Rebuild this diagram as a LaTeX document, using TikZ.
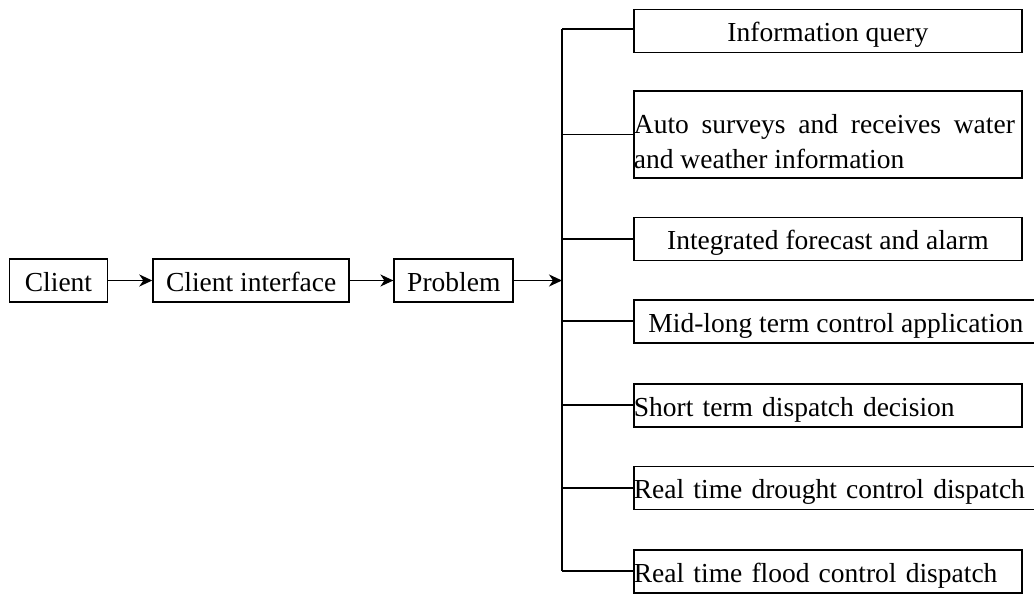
\documentclass[tikz,border=0pt]{standalone}
\usepackage{fontspec}
\setmainfont{Liberation Serif}
\usetikzlibrary{arrows.meta}
\begin{document}
\begin{tikzpicture}[x=1pt,y=-1pt,
  every node/.style={font=\fontsize{27.5}{35}\selectfont},
  box/.style={draw,line width=1.8pt,inner sep=0pt,minimum height=43pt,text height=21.5pt,text depth=0pt},
  rbox/.style={box,anchor=west},
  lbox/.style={rbox,text width=388pt,align=left},
  link/.style={line width=1.8pt},
  arr/.style={link,-{Stealth[length=13pt,width=12pt,inset=4pt]}}]
\clip (0,0) rectangle (1034,596);
\useasboundingbox (0,0) rectangle (1034,596);
% left chain
\node[box,minimum width=98pt] (client) at (58.5,280.5) {Client};
\node[box,minimum width=196pt] (iface) at (251.2,280.5) {Client interface};
\node[box,minimum width=119pt] (prob) at (453.8,280.5) {Problem};
% bus
\coordinate (busTop) at (562,29);
\coordinate (busBot) at (562,571);
% right boxes
\node[rbox,minimum width=388pt] (info) at (633,31) {Information query};
\node[draw,line width=1.8pt,inner sep=0pt,anchor=west,minimum width=388pt,minimum height=87.6pt] (auto) at (633,134.5) {};
\node[anchor=center,inner sep=0pt] (autotext) at ([yshift=-7pt]auto.center)
  {\parbox{388pt}{\makebox[381pt][s]{Auto surveys and receives water}\\and weather information}};
\node[rbox,minimum width=388pt] (integ) at (633,239) {Integrated forecast and alarm};
\node[rbox,minimum width=404pt] (mid) at (633,321.3) {Mid-long term control application};
\node[lbox] (short) at (633,405.3) {Short term dispatch decision};
\node[lbox,text width=412pt] (drought) at (633,488) {Real time drought control dispatch};
\node[lbox] (flood) at (633,571.3) {Real time flood control dispatch};
% connectors
\draw[arr] (client.east) -- (iface.west);
\draw[arr] (iface.east) -- (prob.west);
\draw[arr] (prob.east) -- (prob.east -| busTop);
\draw[link] (busTop) -- (busBot);
\draw[link] (busTop) -- (busTop -| info.west);
\draw[link] (busTop |- auto.west) -- (auto.west);
\draw[link] (busTop |- integ.west) -- (integ.west);
\draw[link] (busTop |- mid.west) -- (mid.west);
\draw[link] (busTop |- short.west) -- (short.west);
\draw[link] (busTop |- drought.west) -- (drought.west);
\draw[link] (busBot) -- (busBot -| flood.west);
\end{tikzpicture}
\end{document}
